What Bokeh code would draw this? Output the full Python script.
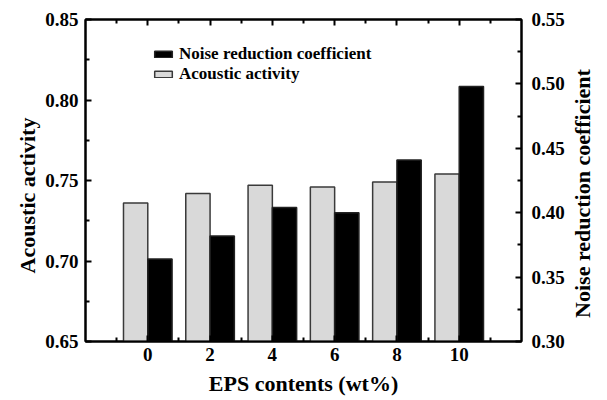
import math
from bokeh.plotting import figure
from bokeh.models import (Range1d, LinearAxis, FixedTicker, Legend, LegendItem, Label,
                          ColumnDataSource, CustomJSTickFormatter, PrintfTickFormatter)
from bokeh.embed import file_html
from bokeh.resources import INLINE

# data
eps_contents = [0, 2, 4, 6, 8, 10]
acoustic_activity = [0.736, 0.742, 0.747, 0.746, 0.749, 0.754]
noise_reduction = [0.364, 0.382, 0.404, 0.400, 0.441, 0.498]
x_tick_labels = ["0", "2", "4", "6", "8", "10"]

BAR_W = 0.78
FONT = "Liberation Serif"

src = ColumnDataSource(dict(
    x=eps_contents,
    xa=[v - BAR_W / 2 for v in eps_contents],
    xn=[v + BAR_W / 2 for v in eps_contents],
    aa=acoustic_activity,
    nrc=noise_reduction,
))

p = figure(width=607, height=400, output_backend="svg", toolbar_location=None,
           x_range=Range1d(-2, 12), y_range=Range1d(0.65, 0.85),
           min_border_left=85, min_border_right=86, min_border_top=19,
           min_border_bottom=59)
p.extra_y_ranges = {"nrc": Range1d(0.30, 0.55)}
p.xgrid.visible = False
p.ygrid.visible = False
p.outline_line_color = "black"
p.outline_line_width = 2
p.background_fill_color = "white"
p.border_fill_color = "white"

r_aa = p.vbar(x="xa", width=BAR_W, top="aa", bottom=0.65, source=src,
              fill_color="#d9d9d9", line_color="#3a3a3a", line_width=1.5)
r_nrc = p.vbar(x="xn", width=BAR_W, top="nrc", bottom=0.30, source=src,
               y_range_name="nrc", fill_color="black", line_color="#222222",
               line_width=1.5)


def style(ax):
    ax.axis_line_width = 2
    ax.axis_line_color = "black"
    ax.major_tick_line_width = 2
    ax.minor_tick_line_width = 2
    ax.major_tick_in = 6
    ax.major_tick_out = 0
    ax.minor_tick_in = 4
    ax.minor_tick_out = 0
    ax.major_label_text_font = FONT
    ax.major_label_text_font_style = "bold"
    ax.major_label_text_font_size = "19px"
    ax.major_label_text_color = "black"
    ax.axis_label_text_font = FONT
    ax.axis_label_text_font_style = "bold"
    ax.axis_label_text_font_size = "22px"
    ax.axis_label_text_color = "black"


xax = p.xaxis[0]
xax.ticker = FixedTicker(ticks=eps_contents, minor_ticks=[-1, 1, 3, 5, 7, 9, 11])
xax.major_label_overrides = {v: s for v, s in zip(eps_contents, x_tick_labels)}
style(xax)
xax.axis_label = "EPS contents (wt%)"
xax.major_label_standoff = 6
xax.axis_label_standoff = 7

yax = p.yaxis[0]
yax.ticker = FixedTicker(ticks=[0.65, 0.70, 0.75, 0.80, 0.85],
                         minor_ticks=[0.675, 0.725, 0.775, 0.825])
yax.formatter = PrintfTickFormatter(format="%.2f")
style(yax)
yax.major_label_standoff = 7

rax = LinearAxis(y_range_name="nrc",
                 ticker=FixedTicker(ticks=[0.30, 0.35, 0.40, 0.45, 0.50, 0.55],
                                    minor_ticks=[0.325, 0.375, 0.425, 0.475, 0.525]),
                 formatter=PrintfTickFormatter(format="%.2f"))
style(rax)
rax.major_label_standoff = 10
p.add_layout(rax, "right")

tax = LinearAxis(ticker=FixedTicker(ticks=eps_contents,
                                    minor_ticks=[-1, 1, 3, 5, 7, 9, 11]),
                 formatter=CustomJSTickFormatter(code="return ''"))
style(tax)
tax.major_label_standoff = 0
p.add_layout(tax, "above")


def vlabel(text, x, y, side):
    p.add_layout(Label(text=text, x=x, y=y, x_units="screen", y_units="screen",
                       angle=math.pi / 2, text_align="center", text_baseline="middle",
                       text_font=FONT, text_font_style="bold", text_font_size="22px",
                       text_color="black"), side)


vlabel("Acoustic activity", 10, 146, "left")
vlabel("Noise reduction coefficient", 15, 148, "right")

legend = Legend(items=[LegendItem(label="Noise reduction coefficient", renderers=[r_nrc]),
                       LegendItem(label="Acoustic activity", renderers=[r_aa])],
                location=(67, 257))
legend.glyph_width = 22
legend.glyph_height = 8
legend.label_height = 19
legend.spacing = 0
legend.padding = 0
legend.margin = 0
legend.label_standoff = 5
legend.border_line_color = None
legend.background_fill_alpha = 0
legend.label_text_font = FONT
legend.label_text_font_style = "bold"
legend.label_text_font_size = "17px"
legend.label_text_color = "black"
p.add_layout(legend, "center")

open("out.html", "w").write(file_html(p, INLINE))
